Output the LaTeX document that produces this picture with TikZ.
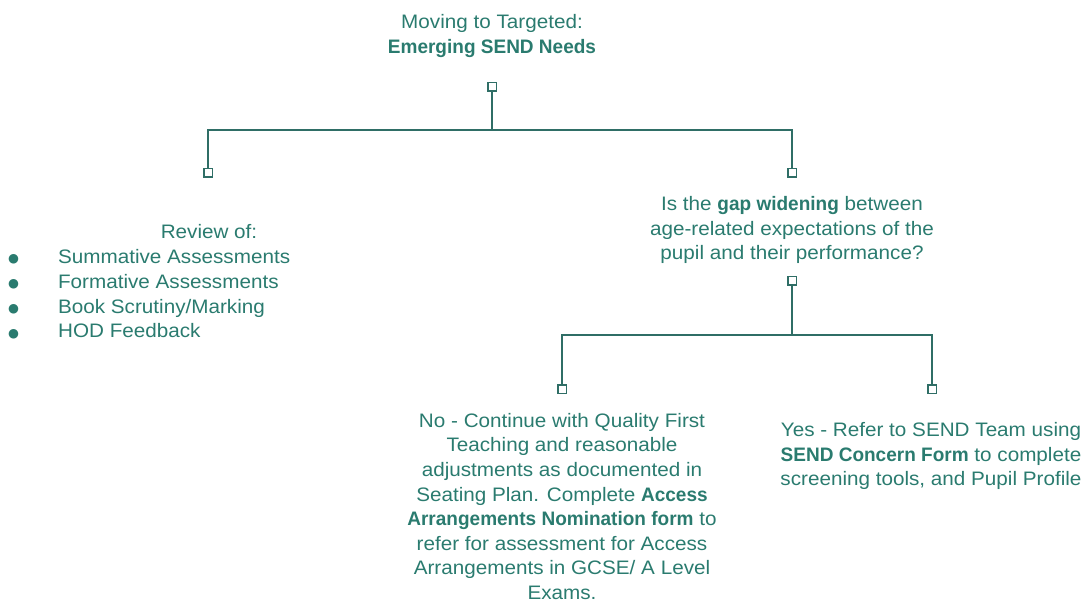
\documentclass[tikz,border=0pt]{standalone}
\usepackage{fontspec}
\setmainfont[FakeStretch=1.06,BoldFeatures={FakeStretch=0.975}]{Liberation Sans}
\newfontfamily\symfont{DejaVu Sans}
\definecolor{txt}{HTML}{2A7B6F}
\definecolor{ln}{HTML}{2F6E66}
\newcommand{\blt}{{\symfont\fontsize{12.5}{24.6}\selectfont\raisebox{0.5pt}{●}}}
\begin{document}
\begin{tikzpicture}[x=1pt,y=-1pt,
  every node/.style={text=txt,font=\fontsize{19.5}{24.6}\selectfont,inner sep=0pt},
  sq/.style={draw=ln,fill=white,line width=1.5pt,minimum size=8.5pt,inner sep=0pt},
  conn/.style={draw=ln,line width=1.6pt},
  lbl/.style={align=center}]
\useasboundingbox (0,0) rectangle (1084,601);
% text nodes
\node[lbl] (title) at (492,36) {Moving to Targeted:\\\textbf{Emerging SEND Needs}};
\node[anchor=base] (rev) at (209,239) {Review of:};
\node[anchor=north west,align=left] (list) at (8,246) {%
\begin{tabular}{@{}l@{\hspace{39pt}}l@{}}
\blt & Summative Assessments\\[0.2pt]
\blt & Formative Assessments\\[0.2pt]
\blt & Book Scrutiny/Marking\\[0.2pt]
\blt & HOD Feedback
\end{tabular}};
\node[lbl] (gap) at (792,230) {Is the \textbf{gap widening} between\\age-related expectations of the\\pupil and their performance?};
\node[lbl] (no) at (562,506.5) {No - Continue with Quality First\\Teaching and reasonable\\adjustments as documented in\\Seating Plan. Complete \textbf{Access}\\\textbf{Arrangements Nomination form} to\\refer for assessment for Access\\Arrangements in GCSE/ A Level\\Exams.};
\node[lbl] (yes) at (931,456) {Yes - Refer to SEND Team using\\\textbf{SEND Concern Form} to complete\\screening tools, and Pupil Profile};
% squares
\node[sq] (s0) at (492,87) {};
\node[sq] (s1) at (208,173) {};
\node[sq] (s2) at (792,173) {};
\node[sq] (s3) at (792,281) {};
\node[sq] (s4) at (562,389) {};
\node[sq] (s5) at (932,389) {};
\coordinate (j1) at (492,130);
\coordinate (j2) at (792,335);
% connectors
\draw[conn] (s0.south) -- (j1) -| (s1.north);
\draw[conn] (j1) -| (s2.north);
\draw[conn] (s3.south) -- (j2) -| (s4.north);
\draw[conn] (j2) -| (s5.north);
\end{tikzpicture}
\end{document}
